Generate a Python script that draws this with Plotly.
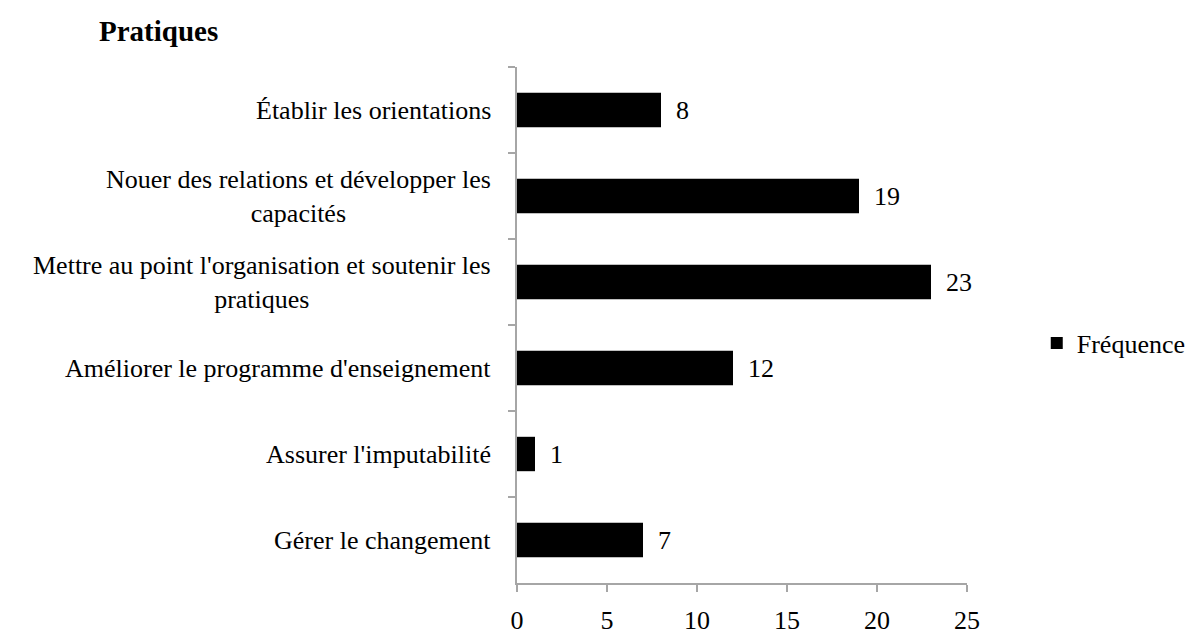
import plotly.graph_objects as go

categories = [
    "Établir les orientations",
    "Nouer des relations et développer les<br>capacités",
    "Mettre au point l'organisation et soutenir les<br>pratiques",
    "Améliorer le programme d'enseignement",
    "Assurer l'imputabilité",
    "Gérer le changement",
]
values = [8, 19, 23, 12, 1, 7]
series_name = "Fréquence"
x_ticks = [0, 5, 10, 15, 20, 25]
title_text = "Pratiques"

FONT = "Liberation Serif, Times New Roman, serif"
AXIS_COLOR = "#a6a6a6"
FS = 26

W, H = 1195, 639
ML, MR, MT, MB = 509, 230, 59, 45
pw = W - ML - MR
ph = H - MT - MB

fig = go.Figure()
fig.add_trace(go.Bar(
    x=values,
    y=categories,
    orientation="h",
    name=series_name,
    marker=dict(color="black", line=dict(width=0)),
    showlegend=True,
))

annotations = []
for c, v in zip(categories, values):
    annotations.append(dict(
        x=v, y=c, xref="x", yref="y", text=str(v), showarrow=False,
        xanchor="left", yanchor="middle", xshift=13,
        font=dict(family=FONT, size=FS, color="black"),
    ))
for c in categories:
    annotations.append(dict(
        x=0, y=c, xref="paper", yref="y", text=c, showarrow=False,
        xanchor="right", yanchor="middle", xshift=-24, align="center",
        font=dict(family=FONT, size=FS, color="black"),
    ))
annotations.append(dict(
    x=(146 - ML) / pw, y=(H - MB - 22) / ph, xref="paper", yref="paper",
    text="<b>%s</b>" % title_text, showarrow=False,
    xanchor="center", yanchor="middle",
    font=dict(family=FONT, size=29, color="black"),
))

fig.update_layout(
    width=W, height=H,
    margin=dict(l=ML, r=MR, t=MT, b=MB),
    paper_bgcolor="white", plot_bgcolor="white",
    bargap=0.6,
    font=dict(family=FONT, color="black"),
    legend=dict(
        x=1.155, y=0.465, xanchor="left", yanchor="middle",
        font=dict(family=FONT, size=FS, color="black"),
        bgcolor="rgba(0,0,0,0)", borderwidth=0,
    ),
    xaxis=dict(
        range=[0, 25], tickvals=x_ticks, ticktext=[str(t) for t in x_ticks],
        showgrid=False, zeroline=False,
        showline=True, linecolor=AXIS_COLOR, linewidth=2,
        ticks="outside", ticklen=7, tickwidth=2, tickcolor=AXIS_COLOR,
        tickfont=dict(family=FONT, size=FS, color="black"),
        ticklabelstandoff=6,
        fixedrange=True,
    ),
    yaxis=dict(
        type="category", autorange="reversed",
        showgrid=False, zeroline=False,
        showline=True, linecolor=AXIS_COLOR, linewidth=2,
        ticks="outside", tickson="boundaries", ticklen=7, tickwidth=2,
        tickcolor=AXIS_COLOR, showticklabels=False,
        fixedrange=True,
    ),
    annotations=annotations,
)

fig.write_html("out.html")
